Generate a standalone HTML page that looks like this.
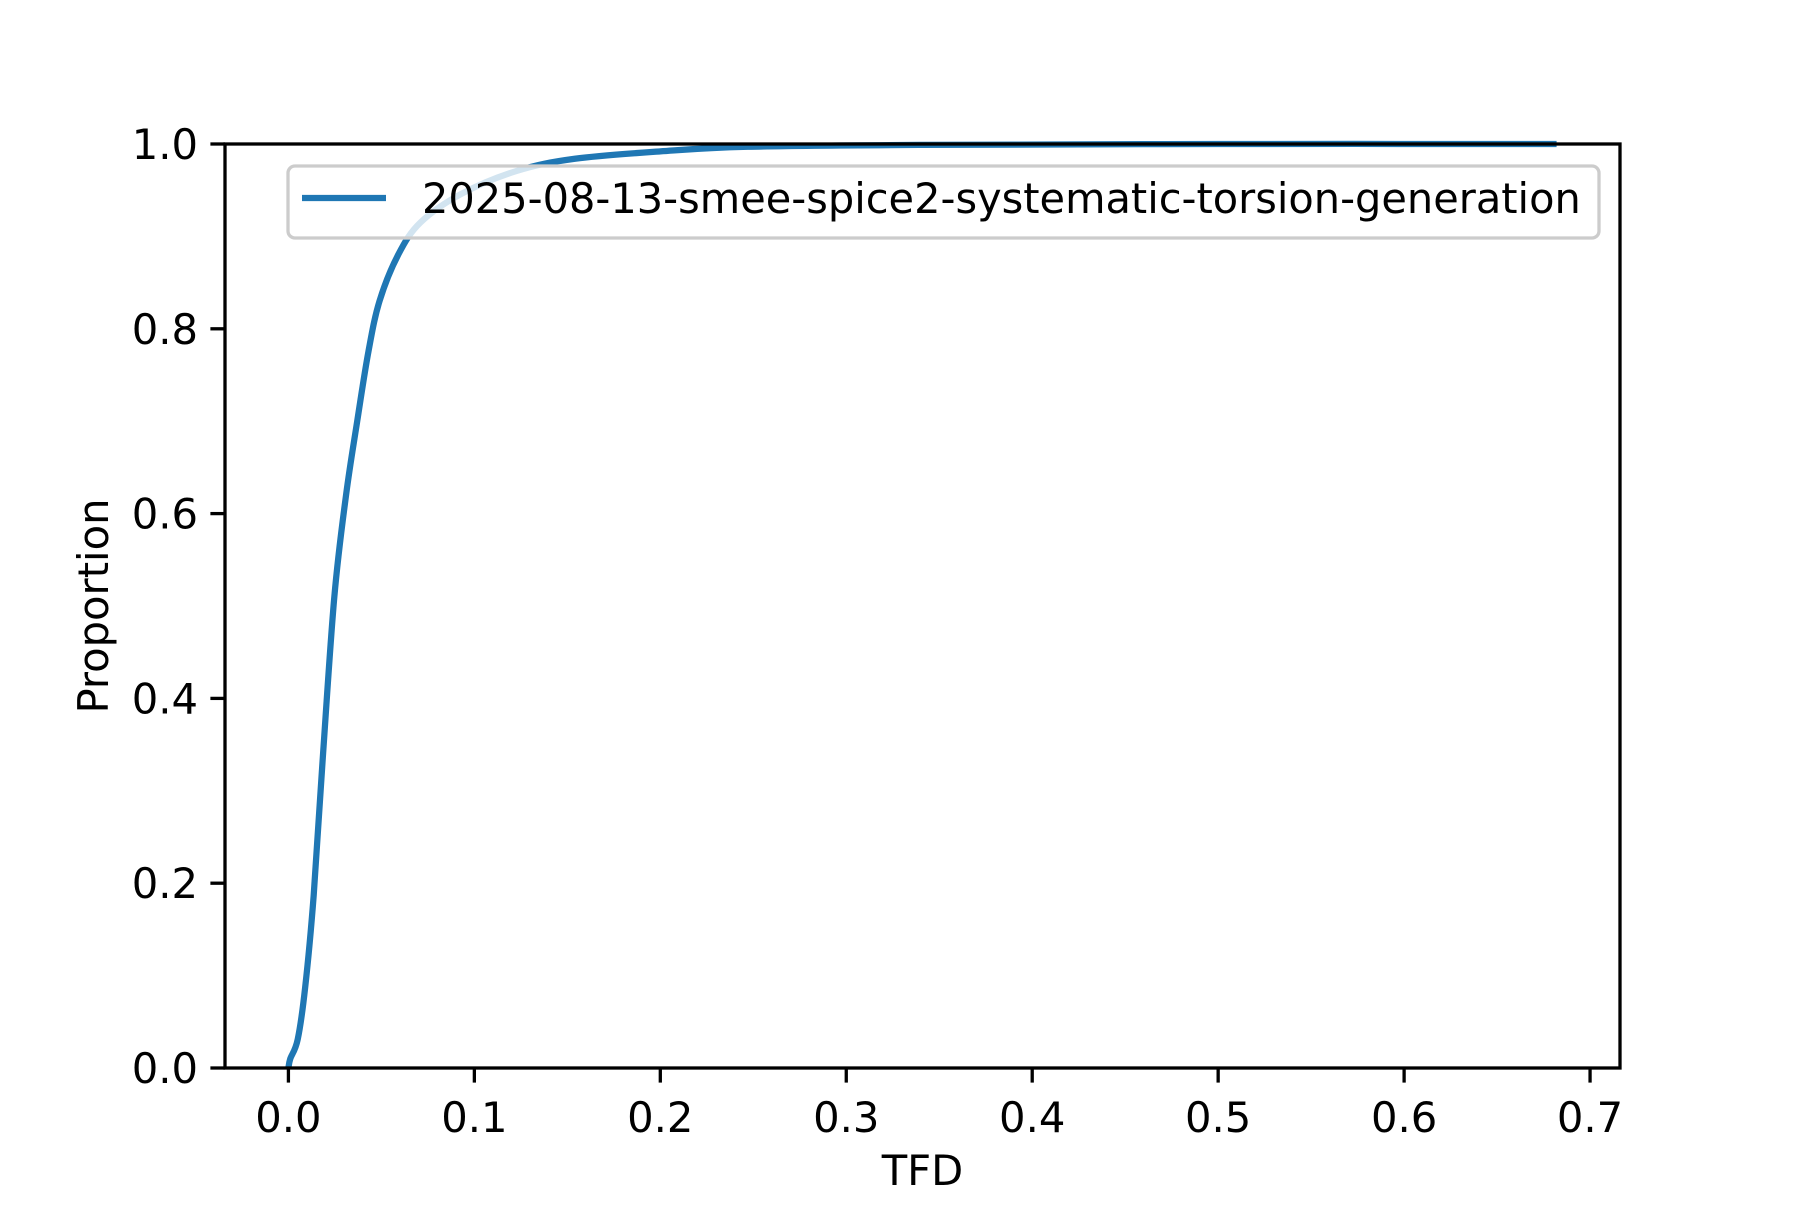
<!DOCTYPE html>
<html><head><meta charset="utf-8"><style>
html,body{margin:0;padding:0;background:#fff;}
svg text{font-family:"DejaVu Sans","Liberation Sans",sans-serif;fill:#000;}
</style></head><body>
<svg id="chart" width="1800" height="1200" viewBox="0 0 1800 1200" xmlns="http://www.w3.org/2000/svg">
<rect width="1800" height="1200" fill="#fff"/>
<g id="plot"></g>
</svg>
<script>
const xTicks = [0.0,0.1,0.2,0.3,0.4,0.5,0.6,0.7];
const xTickLabels = ["0.0","0.1","0.2","0.3","0.4","0.5","0.6","0.7"];
const yTicks = [0.0,0.2,0.4,0.6,0.8,1.0];
const yTickLabels = ["0.0","0.2","0.4","0.6","0.8","1.0"];
const tfdValues = [0,0.001,0.005,0.009,0.0136,0.0185,0.0247,0.031,0.037,0.043,0.049,0.059,0.071,0.093,0.123,0.154,0.2,0.247,0.34,0.5,0.682];
const proportionValues = [0,0.01,0.031,0.087,0.187,0.336,0.51,0.62,0.70,0.775,0.83,0.88,0.915,0.946,0.971,0.984,0.992,0.997,0.999,1.0,1.0];
const seriesName = "2025-08-13-smee-spice2-systematic-torsion-generation";

const L=225,R=1620,T=144,B=1068;
const xmin=-0.0341,xmax=0.7161;
const sx=v=>L+(v-xmin)/(xmax-xmin)*(R-L);
const sy=v=>B-(v-0)/(1-0)*(B-T);
const NS="http://www.w3.org/2000/svg";
const g=document.getElementById('plot');
function mk(tag,attrs,parent){const e=document.createElementNS(NS,tag);for(const k in attrs)e.setAttribute(k,attrs[k]);(parent||g).appendChild(e);return e;}

// curve (smoothed Catmull-Rom through data points)
const pts=tfdValues.map((x,i)=>[sx(x),sy(proportionValues[i])]);
let d='M'+pts[0][0].toFixed(2)+','+pts[0][1].toFixed(2);
for(let i=0;i<pts.length-1;i++){
  const p0=pts[Math.max(0,i-1)],p1=pts[i],p2=pts[i+1],p3=pts[Math.min(pts.length-1,i+2)];
  const c1=[p1[0]+(p2[0]-p0[0])/6,p1[1]+(p2[1]-p0[1])/6];
  const c2=[p2[0]-(p3[0]-p1[0])/6,p2[1]-(p3[1]-p1[1])/6];
  d+=' C'+c1[0].toFixed(2)+','+c1[1].toFixed(2)+' '+c2[0].toFixed(2)+','+c2[1].toFixed(2)+' '+p2[0].toFixed(2)+','+p2[1].toFixed(2);
}
const line=mk('path',{d:d,fill:'none',stroke:'#1f77b4','stroke-width':6.25,'stroke-linejoin':'round','stroke-linecap':'butt'});



// axes frame
const frame=mk('rect',{x:L,y:T,width:R-L,height:B-T,fill:'none',stroke:'#000','stroke-width':3.3});



// x ticks
xTicks.forEach((v,i)=>{
  const t=mk('line',{x1:sx(v),x2:sx(v),y1:B,y2:B+14.6,stroke:'#000','stroke-width':3.3});
  
  
  const tx=mk('text',{x:sx(v),y:B+64,'text-anchor':'middle','font-size':41.7});
  tx.textContent=xTickLabels[i];
  
  
});
// y ticks
yTicks.forEach((v,i)=>{
  const t=mk('line',{x1:L-14.6,x2:L,y1:sy(v),y2:sy(v),stroke:'#000','stroke-width':3.3});
  
  
  const tx=mk('text',{x:L-27,y:sy(v)+15,'text-anchor':'end','font-size':41.7});
  tx.textContent=yTickLabels[i];
  
  
});
const xt=mk('text',{x:(L+R)/2,y:1185,'text-anchor':'middle','font-size':41.7});
xt.textContent='TFD';


const yt=mk('text',{x:0,y:0,'text-anchor':'middle','font-size':41.7,transform:'translate(108,'+((T+B)/2)+') rotate(-90)'});
yt.textContent='Proportion';



// legend
const lg=mk('g',{});


mk('rect',{x:288,y:166,width:1311,height:72,rx:7,fill:'#fff','fill-opacity':0.8,stroke:'#cccccc','stroke-width':3.3},lg);
const lh=mk('line',{x1:302,x2:386,y1:198,y2:198,stroke:'#1f77b4','stroke-width':6.25},lg);


const lt=mk('text',{x:422,y:213,'font-size':41.5},lg);
lt.textContent=seriesName;


</script>
</body></html>
